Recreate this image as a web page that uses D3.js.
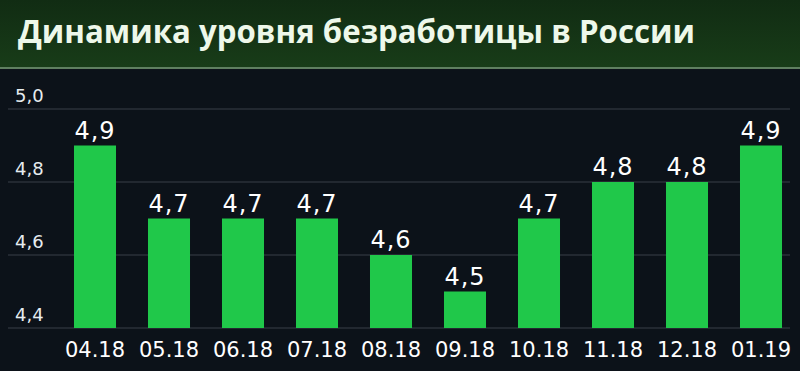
<!DOCTYPE html>
<html>
<head>
<meta charset="utf-8">
<script src="https://cdn.jsdelivr.net/npm/d3@7"></script>
<style>
  html, body { margin: 0; padding: 0; background: #0c1219; }
  svg { display: block; }
</style>
</head>
<body>
<div id="chart"></div>
<script>
// Chart data - unemployment rate by month
const months = ['04.18', '05.18', '06.18', '07.18', '08.18', '09.18', '10.18', '11.18', '12.18', '01.19'];
const rates = [4.9, 4.7, 4.7, 4.7, 4.6, 4.5, 4.7, 4.8, 4.8, 4.9];
const yTicks = [4.4, 4.6, 4.8, 5.0];
const title = 'Динамика уровня безработицы в России';

const width = 800, height = 371;
const numFont = '"DejaVu Sans", sans-serif';
const fmt = v => d3.format('.1f')(v).replace('.', ',');

const svg = d3.select('#chart').append('svg')
    .attr('width', width)
    .attr('height', height);

// Background + header
const defs = svg.append('defs');
const grad = defs.append('linearGradient').attr('id', 'hdr').attr('x1', 0).attr('y1', 0).attr('x2', 0).attr('y2', 1);
grad.append('stop').attr('offset', '0%').attr('stop-color', '#112c13');
grad.append('stop').attr('offset', '100%').attr('stop-color', '#183c18');

svg.append('rect').attr('width', width).attr('height', height).attr('fill', '#0c1219');
svg.append('rect').attr('width', width).attr('height', 67).attr('fill', 'url(#hdr)');
svg.append('rect').attr('y', 67).attr('width', width).attr('height', 2).attr('fill', '#5f7f60');

const titleText = svg.append('text')
    .attr('x', 18)
    .attr('y', 43)
    .attr('fill', '#eef8ea')
    .style('font-family', '"Open Sans", sans-serif')
    .style('font-weight', 700)
    .style('font-size', '32px')
    .text(title);
// stretch to the width seen in the picture
const tw = titleText.node().getComputedTextLength();
if (Math.abs(tw - 677) > 4) titleText.attr('textLength', 677).attr('lengthAdjust', 'spacingAndGlyphs');

// Scales
const x = d3.scaleBand()
    .domain(months)
    .range([58, 798])
    .paddingInner(0.432)
    .paddingOuter(0.216);

const y = d3.scaleLinear()
    .domain([4.4, 5.0])
    .range([328, 109]);

// Gridlines
svg.append('g')
    .selectAll('line')
    .data(yTicks)
    .join('line')
    .attr('x1', 8)
    .attr('x2', 790)
    .attr('y1', d => y(d))
    .attr('y2', d => y(d))
    .attr('stroke', '#2a3139')
    .attr('stroke-width', 1.5);

// Y labels
svg.append('g')
    .selectAll('text')
    .data(yTicks)
    .join('text')
    .attr('x', 15)
    .attr('y', d => y(d) - 7)
    .attr('fill', '#e6ecef')
    .style('font-family', numFont)
    .style('font-size', '18px')
    .text(d => fmt(d));

// Bars
svg.append('g')
    .selectAll('rect')
    .data(rates)
    .join('rect')
    .attr('x', (d, i) => x(months[i]))
    .attr('y', d => y(d))
    .attr('width', x.bandwidth())
    .attr('height', d => y(4.4) - y(d))
    .attr('fill', '#20c84a');

// Value labels
svg.append('g')
    .selectAll('text')
    .data(rates)
    .join('text')
    .attr('x', (d, i) => x(months[i]) + x.bandwidth() / 2)
    .attr('y', d => y(d) - 7)
    .attr('text-anchor', 'middle')
    .attr('fill', '#ffffff')
    .style('font-family', numFont)
    .style('font-size', '24px')
    .style('letter-spacing', '1px')
    .text(d => fmt(d));

// X labels
svg.append('g')
    .selectAll('text')
    .data(months)
    .join('text')
    .attr('x', d => x(d) + x.bandwidth() / 2)
    .attr('y', 357)
    .attr('text-anchor', 'middle')
    .attr('fill', '#ffffff')
    .style('font-family', numFont)
    .style('font-size', '21px')
    .text(d => d);
</script>
</body>
</html>
